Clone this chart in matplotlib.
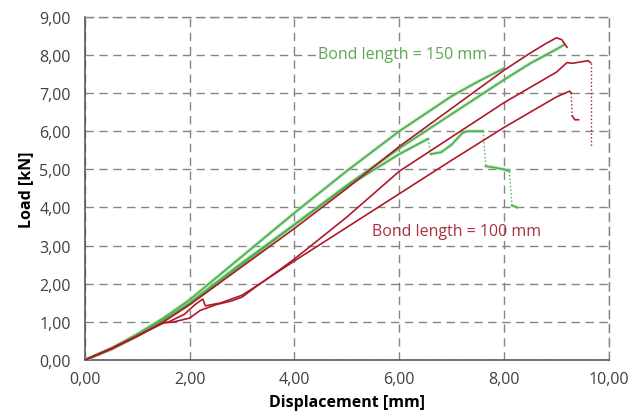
import matplotlib.pyplot as plt
from matplotlib.ticker import FuncFormatter, MultipleLocator

plt.rcParams['font.family'] = ['Open Sans', 'DejaVu Sans']

GREEN = '#4caf50'
RED = '#ad1a2a'

# bond length = 150 mm (green)
g1_x = [0, 0.5, 1, 1.5, 2, 3, 4, 5, 6, 7, 7.5, 8.0]
g1_y = [0, 0.3, 0.68, 1.1, 1.58, 2.72, 3.86, 4.96, 6.0, 6.92, 7.3, 7.65]
g2_x = [0, 0.5, 1, 1.5, 2, 3, 4, 5, 6, 7, 8, 8.5, 9.0, 9.15]
g2_y = [0, 0.28, 0.63, 1.03, 1.48, 2.5, 3.55, 4.58, 5.55, 6.45, 7.35, 7.78, 8.15, 8.27]
g3_x = [0, 0.5, 1, 1.5, 2, 3, 4, 5, 6, 6.3, 6.55]
g3_y = [0, 0.3, 0.65, 1.05, 1.5, 2.55, 3.55, 4.55, 5.4, 5.62, 5.8]
g3b_x = [6.6, 6.8, 7.0, 7.2, 7.3, 7.6]
g3b_y = [5.4, 5.45, 5.65, 5.95, 6.0, 6.0]
g3c_x = [7.65, 7.8, 8.0, 8.1]
g3c_y = [5.08, 5.05, 5.0, 4.95]
g3d_x = [8.15, 8.25]
g3d_y = [4.05, 4.0]
g3_drop_x = [[6.55, 6.6], [7.6, 7.65], [8.1, 8.15]]
g3_drop_y = [[5.8, 5.4], [6.0, 5.08], [4.95, 4.05]]

# bond length = 100 mm (red)
r1_x = [0, 0.5, 1, 1.5, 2, 3, 4, 5, 6, 7, 8, 8.5, 8.8, 9.0, 9.1, 9.2]
r1_y = [0, 0.28, 0.62, 1.0, 1.45, 2.45, 3.45, 4.5, 5.6, 6.6, 7.6, 8.05, 8.3, 8.45, 8.4, 8.2]
r2_x = [0, 0.5, 1, 1.5, 1.6, 1.9, 2.1, 2.25, 2.3, 2.6, 3.0, 3.4, 4, 5, 6, 7, 8, 8.5, 9.0, 9.2, 9.3, 9.6, 9.65]
r2_y = [0, 0.3, 0.63, 0.98, 1.0, 1.2, 1.45, 1.6, 1.42, 1.5, 1.7, 2.05, 2.65, 3.75, 4.95, 5.85, 6.75, 7.15, 7.55, 7.8, 7.78, 7.85, 7.8]
r3_x = [0, 0.5, 1, 1.5, 1.7, 2.0, 2.2, 2.5, 2.8, 3.0, 3.34, 4, 5, 6, 7, 8, 8.5, 9.0, 9.25, 9.28]
r3_y = [0, 0.3, 0.63, 0.97, 1.0, 1.1, 1.3, 1.45, 1.55, 1.65, 2.0, 2.6, 3.48, 4.36, 5.24, 6.1, 6.5, 6.9, 7.05, 7.0]
r3b_x = [9.3, 9.35, 9.42]
r3b_y = [6.4, 6.3, 6.3]
r_drop_x = [[9.65, 9.65], [9.28, 9.3]]
r_drop_y = [[7.8, 5.6], [7.0, 6.4]]

fig = plt.figure(figsize=(6.43, 4.14), dpi=100)
ax = fig.add_axes([0.132, 0.128, 0.815, 0.829])

for xs, ys in [(g1_x, g1_y), (g2_x, g2_y), (g3_x, g3_y), (g3b_x, g3b_y), (g3c_x, g3c_y), (g3d_x, g3d_y)]:
    ax.plot(xs, ys, color='#9fd89a', lw=2.6, alpha=0.6, zorder=3, solid_capstyle='round')
    ax.plot(xs, ys, color=GREEN, lw=1.2, zorder=4)
for xs, ys in zip(g3_drop_x, g3_drop_y):
    ax.plot(xs, ys, color=GREEN, lw=1.0, ls=':', zorder=4)

for xs, ys in [(r1_x, r1_y), (r2_x, r2_y), (r3_x, r3_y), (r3b_x, r3b_y)]:
    ax.plot(xs, ys, color=RED, lw=1.2, zorder=5)
for xs, ys in zip(r_drop_x, r_drop_y):
    ax.plot(xs, ys, color=RED, lw=1.0, ls=':', zorder=5)

ax.set_xlim(0, 10)
ax.set_ylim(0, 9)
ax.xaxis.set_major_locator(MultipleLocator(2))
ax.yaxis.set_major_locator(MultipleLocator(1))
fmt = FuncFormatter(lambda v, p: f"{v:.2f}".replace('.', ','))
ax.xaxis.set_major_formatter(fmt)
ax.yaxis.set_major_formatter(fmt)
ax.tick_params(length=0, labelsize=11.5, colors='#404040')
ax.tick_params(axis='y', pad=10)
ax.tick_params(axis='x', pad=8)

ax.grid(True, color='#858585', ls=(0, (6, 4)), lw=1.0)
ax.set_axisbelow(True)
for s in ['top', 'right']:
    ax.spines[s].set_color('#858585')
    ax.spines[s].set_linestyle((0, (6, 4)))
    ax.spines[s].set_linewidth(1.0)
for s in ['left', 'bottom']:
    ax.spines[s].set_color('#595959')
    ax.spines[s].set_linewidth(1.2)

ax.set_xlabel('Displacement [mm]', fontsize=11.5, fontweight='bold', labelpad=5)
ax.set_ylabel('Load [kN]', fontsize=11.5, fontweight='bold', labelpad=4)

ax.text(4.45, 8.03, 'Bond length = 150 mm', color='#5aa94f', fontsize=11.5, va='center', ha='left',
        bbox=dict(facecolor='white', edgecolor='none', pad=1), zorder=2)
ax.text(5.48, 3.39, 'Bond length = 100 mm', color='#a8323c', fontsize=11.5, va='center', ha='left', zorder=2)

fig.savefig('out.png', dpi=100)
